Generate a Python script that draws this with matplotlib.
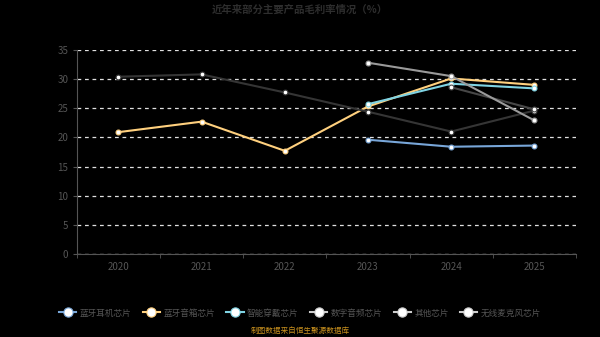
import matplotlib
matplotlib.use("Agg")
import matplotlib.pyplot as plt
import numpy as np

plt.rcParams["font.family"] = ["Noto Sans CJK SC", "DejaVu Sans"]

years = ["2020", "2021", "2022", "2023", "2024", "2025"]

# None = no data for that year
bt_earphone = [None, None, None, 19.6, 18.4, 18.6]
bt_speaker = [20.9, 22.7, 17.7, 25.3, 30.1, 29.0]
wearable = [None, None, None, 25.7, 29.2, 28.4]
digital_audio = [30.4, 30.8, 27.7, 24.4, 21.0, 24.6]
other = [None, None, None, None, 28.6, 24.8]
wireless_mic = [None, None, None, 32.8, 30.5, 22.9]

series = [
    ("蓝牙耳机芯片", bt_earphone, "#78a6d8"),
    ("蓝牙音箱芯片", bt_speaker, "#ffd07e"),
    ("智能穿戴芯片", wearable, "#7fd3e3"),
    ("数字音频芯片", digital_audio, "#353535"),
    ("其他芯片", other, "#474747"),
    ("无线麦克风芯片", wireless_mic, "#9a9a9a"),
]

fig = plt.figure(figsize=(6, 3.37), dpi=100, facecolor="black")
ax = fig.add_axes([0.128, 0.246, 0.832, 0.606], facecolor="black")

x = np.arange(len(years))
for name, vals, color in series:
    y = np.array([np.nan if v is None else v for v in vals], dtype=float)
    ax.plot(x, y, color=color, lw=1.5, marker="o", ms=3.5,
            mfc="white", mec=color, mew=0.8, label=name, zorder=3)

ax.set_ylim(0, 35)
ax.set_yticks(range(0, 36, 5))
ax.set_xlim(-0.5, len(years) - 0.5)
ax.set_xticks(x)
ax.set_xticklabels(years)
ax.set_xticks(np.arange(-0.5, len(years), 1), minor=True)
ax.tick_params(axis="x", which="major", length=0, pad=6)
ax.tick_params(axis="x", which="minor", length=3, color="#555555")
ax.tick_params(axis="y", length=3, color="#555555", pad=3)
ax.tick_params(labelsize=7, labelcolor="#555555")

ax.grid(axis="y", color="#e0e0e0", ls=(0, (3, 3)), lw=0.9)
ax.set_axisbelow(True)
for s in ["top", "right"]:
    ax.spines[s].set_visible(False)
for s in ["left", "bottom"]:
    ax.spines[s].set_color("#555555")

fig.text(0.5, 0.972, "近年来部分主要产品毛利率情况（%）", ha="center", va="center",
         fontsize=7.5, color="#2e2e2e", fontweight="bold")

leg = fig.legend(loc="center", bbox_to_anchor=(0.5, 1 - 313 / 337), ncol=6,
                 frameon=False, fontsize=6.2, handlelength=2.0, markerscale=1.9,
                 columnspacing=1.3, handletextpad=0.4)
for t in leg.get_texts():
    t.set_color("#555555")
# legend handles of the dark series are drawn lighter, as in the original
for h, c in zip(leg.legend_handles, ["#78a6d8", "#ffd07e", "#7fd3e3",
                                     "#cccccc", "#cccccc", "#cccccc"]):
    h.set_color(c)
    h.set_markeredgecolor(c)
    h.set_markerfacecolor("white")

fig.text(0.5, 1 - 331 / 337, "制图数据来自恒生聚源数据库", ha="center", va="center",
         fontsize=5.5, color="#c8901e")

fig.savefig("out.png", dpi=100, facecolor="black")
